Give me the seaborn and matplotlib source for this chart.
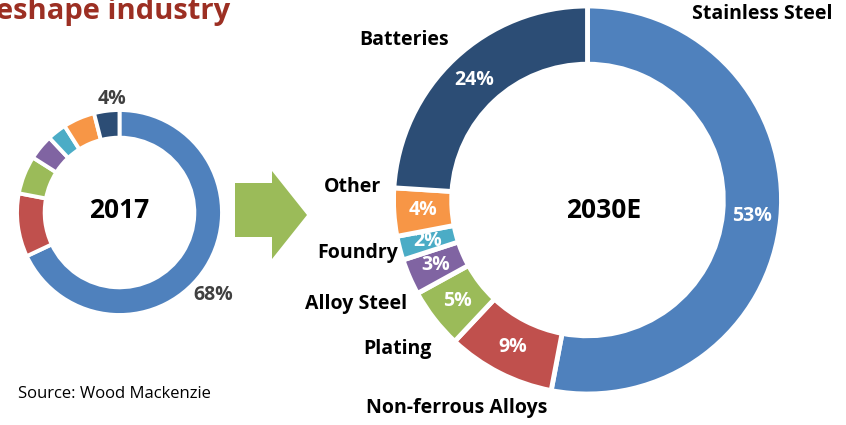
import matplotlib
matplotlib.use("Agg")
import matplotlib.pyplot as plt
import seaborn as sns
from matplotlib.patches import Polygon

sns.set_theme(style="white")
plt.rcParams['font.family'] = ['Open Sans', 'DejaVu Sans']

# ---- data ----
categories = ["Stainless Steel", "Non-ferrous Alloys", "Plating", "Alloy Steel",
              "Foundry", "Other", "Batteries"]
share_2017 = [68, 10, 6, 4, 3, 5, 4]
share_2030 = [53, 9, 5, 3, 2, 4, 24]
colors = ["#4F81BD", "#C0504D", "#9BBB59", "#8064A2", "#4BACC6", "#F79646", "#2C4D75"]
palette = sns.color_palette(colors)

W, H = 846, 425
fig = plt.figure(figsize=(W / 100, H / 100), dpi=100)


def fx(x):
    return x / W


def fy(y):
    return 1 - y / H


def donut_axes(cx, cy, r, pad=1.05):
    rr = r * pad
    ax = fig.add_axes([fx(cx - rr), fy(cy + rr), 2 * rr / W, 2 * rr / H])
    ax.set_xlim(-pad, pad)
    ax.set_ylim(-pad, pad)
    ax.set_aspect("equal")
    ax.axis("off")
    return ax


# ---- title (cut off at left in reference) ----
fig.text(fx(-4), fy(-3), "eshape industry", color="#9C2F23", fontsize=21,
         fontweight="bold", ha="left", va="top")

# ---- 2017 donut ----
ax1 = donut_axes(119.5, 212.5, 102.5)
ax1.pie(share_2017, colors=palette, startangle=90, counterclock=False, radius=1,
        wedgeprops=dict(width=0.27, edgecolor="white", linewidth=2.8))
ax1.set_xlim(-1.05, 1.05)
ax1.set_ylim(-1.05, 1.05)
fig.text(fx(119), fy(211), "2017", fontsize=19, fontweight="bold", color="black",
         ha="center", va="center")
fig.text(fx(213), fy(295), f"{share_2017[0]}%", fontsize=14, fontweight="bold",
         color="#404040", ha="center", va="center")
fig.text(fx(112), fy(99), f"{share_2017[-1]}%", fontsize=14, fontweight="bold",
         color="#404040", ha="center", va="center")

# ---- arrow ----
arrow_px = [(235, 183), (272, 183), (272, 171), (307, 215), (272, 259), (272, 237), (235, 237)]
fig.patches.append(Polygon([(fx(x), fy(y)) for x, y in arrow_px], closed=True,
                           transform=fig.transFigure, facecolor="#9BBB59",
                           edgecolor="none"))

# ---- 2030E donut ----
ax2 = donut_axes(587.5, 200, 194)
wedges, texts, autotexts = ax2.pie(
    share_2030, colors=palette, startangle=90, counterclock=False, radius=1,
    autopct="%.0f%%", pctdistance=0.85,
    wedgeprops=dict(width=0.30, edgecolor="white", linewidth=3.5),
    textprops=dict(color="white", fontsize=14, fontweight="bold"))
ax2.set_xlim(-1.05, 1.05)
ax2.set_ylim(-1.05, 1.05)
fig.text(fx(604), fy(211), "2030E", fontsize=19, fontweight="bold", color="black",
         ha="center", va="center")

label_pos = {
    "Stainless Steel": (762, 14),
    "Batteries": (404, 40),
    "Other": (352, 187),
    "Foundry": (358, 253),
    "Alloy Steel": (356, 304),
    "Plating": (397, 349),
    "Non-ferrous Alloys": (457, 408),
}
for name in categories:
    x, y = label_pos[name]
    fig.text(fx(x), fy(y), name, fontsize=14, fontweight="bold", color="black",
             ha="center", va="center")

# ---- source ----
fig.text(fx(18), fy(394), "Source: Wood Mackenzie", fontsize=12, color="black",
         ha="left", va="center")

fig.savefig("out.png", dpi=100)
